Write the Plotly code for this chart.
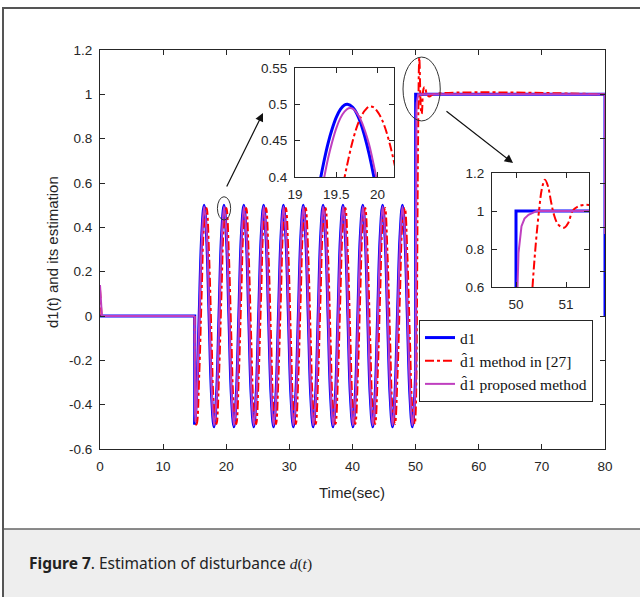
import plotly.graph_objects as go

# ---------------- data ----------------
# common sample instants of the oscillating part (sec)
OSC_T = [
    15.32, 15.71, 16.10, 16.49, 16.89, 17.28, 17.67, 18.06,
    18.46, 18.85, 19.24, 19.64, 20.03, 20.42, 20.81, 21.21,
    21.60, 21.99, 22.38, 22.78, 23.17, 23.56, 23.95, 24.35,
    24.74, 25.13, 25.53, 25.92, 26.31, 26.70, 27.10, 27.49,
    27.88, 28.27, 28.67, 29.06, 29.45, 29.85, 30.24, 30.63,
    31.02, 31.42, 31.81, 32.20, 32.59, 32.99, 33.38, 33.77,
    34.17, 34.56, 34.95, 35.34, 35.74, 36.13, 36.52, 36.91,
    37.31, 37.70, 38.09, 38.49, 38.88, 39.27, 39.66, 40.06,
    40.45, 40.84, 41.23, 41.63, 42.02, 42.41, 42.80, 43.20,
    43.59, 43.98, 44.38, 44.77, 45.16, 45.55, 45.95, 46.34,
    46.73, 47.12, 47.52, 47.91, 48.30, 48.69, 49.09, 49.48,
    49.87,
]

# d1 (true disturbance)
D1_START_T = [0.0, 15.0, 15.0]
D1_START = [0.0, 0.0, -0.49]
D1_OSC = [
    -0.354, 0.0, 0.354, 0.5, 0.354, 0.0, -0.354, -0.5,
    -0.354, 0.0, 0.354, 0.5, 0.354, 0.0, -0.354, -0.5,
    -0.354, 0.0, 0.354, 0.5, 0.354, 0.0, -0.354, -0.5,
    -0.354, 0.0, 0.354, 0.5, 0.354, 0.0, -0.354, -0.5,
    -0.354, 0.0, 0.354, 0.5, 0.354, 0.0, -0.354, -0.5,
    -0.354, 0.0, 0.354, 0.5, 0.354, 0.0, -0.354, -0.5,
    -0.354, 0.0, 0.354, 0.5, 0.354, 0.0, -0.354, -0.5,
    -0.354, 0.0, 0.354, 0.5, 0.354, 0.0, -0.354, -0.5,
    -0.354, 0.0, 0.354, 0.5, 0.354, 0.0, -0.354, -0.5,
    -0.354, 0.0, 0.354, 0.5, 0.354, 0.0, -0.354, -0.5,
    -0.354, 0.0, 0.354, 0.5, 0.354, 0.0, -0.354, -0.5,
    -0.354,
]
D1_END_T = [50.0, 50.0, 80.0, 80.0]
D1_END = [-0.25, 1.0, 1.0, 0.0]

# d1-hat, method in [27]
M27_START_T = [0.0, 0.1, 0.25, 15.0]
M27_START = [0.12, 0.05, 0.0, 0.0]
M27_HEAD_T = [15.0, 15.1, 15.21]
M27_HEAD = [0.0, -0.38, -0.49]
M27_OSC = [
    -0.487, -0.272, 0.101, 0.416, 0.487, 0.272, -0.101, -0.415,
    -0.487, -0.272, 0.101, 0.416, 0.487, 0.272, -0.101, -0.415,
    -0.487, -0.272, 0.101, 0.416, 0.487, 0.272, -0.101, -0.415,
    -0.487, -0.272, 0.101, 0.416, 0.487, 0.272, -0.101, -0.415,
    -0.487, -0.272, 0.101, 0.416, 0.487, 0.272, -0.101, -0.415,
    -0.487, -0.272, 0.101, 0.416, 0.487, 0.272, -0.101, -0.415,
    -0.487, -0.272, 0.101, 0.416, 0.487, 0.272, -0.101, -0.415,
    -0.487, -0.272, 0.101, 0.416, 0.487, 0.272, -0.101, -0.415,
    -0.487, -0.272, 0.101, 0.416, 0.487, 0.272, -0.101, -0.415,
    -0.487, -0.272, 0.101, 0.416, 0.487, 0.272, -0.101, -0.415,
    -0.487, -0.272, 0.101, 0.416, 0.487, 0.272, -0.101, -0.415,
    -0.487,
]
M27_TAIL_T = [50.0, 50.1, 50.2, 50.27, 50.33, 50.4, 50.46, 50.52, 50.58,
              50.64, 50.7, 50.76, 50.84, 50.96, 51.05, 51.13, 51.25, 51.4,
              51.55, 51.8, 52.2, 52.8, 80.0]
M27_TAIL = [-0.44, -0.32, 0.0, 0.32, 0.6, 0.84, 1.0, 1.12, 1.165,
            1.13, 1.05, 0.98, 0.93, 0.912, 0.94, 1.0, 1.025, 1.033,
            1.025, 1.0, 0.99, 1.0, 1.0]

# d1-hat, proposed method
PROP_START_T = [0.0, 0.08, 0.15, 0.3, 15.0]
PROP_START = [0.14, 0.08, 0.04, 0.0, 0.0]
PROP_HEAD_T = [15.0, 15.05, 15.12]
PROP_HEAD = [0.0, -0.40, -0.48]
PROP_OSC = [
    -0.373, -0.035, 0.325, 0.494, 0.374, 0.035, -0.325, -0.494,
    -0.373, -0.035, 0.325, 0.494, 0.374, 0.035, -0.325, -0.494,
    -0.373, -0.035, 0.325, 0.494, 0.374, 0.035, -0.325, -0.494,
    -0.373, -0.035, 0.325, 0.494, 0.374, 0.035, -0.325, -0.494,
    -0.373, -0.035, 0.325, 0.494, 0.374, 0.035, -0.325, -0.494,
    -0.373, -0.035, 0.325, 0.494, 0.374, 0.035, -0.325, -0.494,
    -0.373, -0.035, 0.325, 0.494, 0.374, 0.035, -0.325, -0.494,
    -0.373, -0.035, 0.325, 0.494, 0.374, 0.035, -0.325, -0.494,
    -0.373, -0.035, 0.325, 0.494, 0.374, 0.035, -0.325, -0.494,
    -0.373, -0.035, 0.325, 0.494, 0.374, 0.035, -0.325, -0.494,
    -0.373, -0.035, 0.325, 0.494, 0.374, 0.035, -0.325, -0.494,
    -0.373,
]
PROP_OSC_END_T = [50.0]
PROP_OSC_END = [-0.28]
PROP_TAIL_T = [50.0, 50.015, 50.03, 50.05, 50.08, 50.11, 50.17, 50.25, 50.41, 80.0, 80.0]
PROP_TAIL = [-0.28, 0.3, 0.6, 0.78, 0.87, 0.92, 0.96, 0.98, 1.0, 1.0, 0.37]

# zoom-in around the peak near t = 19.6 s
Z1_D1_T = [19.28, 19.30, 19.35, 19.40, 19.45, 19.50, 19.55, 19.60, 19.635,
           19.70, 19.75, 19.80, 19.85, 19.90, 19.95, 20.00]
Z1_D1 = [0.379, 0.392, 0.421, 0.446, 0.466, 0.482, 0.493, 0.499, 0.500,
         0.496, 0.487, 0.473, 0.454, 0.431, 0.404, 0.373]
Z1_PROP_T = [19.30, 19.35, 19.40, 19.45, 19.50, 19.55, 19.60, 19.65, 19.70,
             19.75, 19.80, 19.85, 19.90, 19.95, 20.00, 20.05]
Z1_PROP = [0.366, 0.397, 0.425, 0.448, 0.467, 0.481, 0.490, 0.4946, 0.494,
           0.488, 0.478, 0.463, 0.444, 0.419, 0.391, 0.359]
Z1_M27_T = [19.55, 19.60, 19.65, 19.70, 19.75, 19.80, 19.85, 19.90, 19.95,
            20.00, 20.05, 20.10, 20.15, 20.20, 20.25]
Z1_M27 = [0.367, 0.399, 0.426, 0.450, 0.469, 0.483, 0.492, 0.497, 0.496,
          0.490, 0.480, 0.465, 0.445, 0.421, 0.393]

# tick labels
MAIN_XTICKS = [0, 10, 20, 30, 40, 50, 60, 70, 80]
MAIN_YTICKS = [-0.6, -0.4, -0.2, 0, 0.2, 0.4, 0.6, 0.8, 1, 1.2]
MAIN_YTEXT = ["-0.6", "-0.4", "-0.2", "0", "0.2", "0.4", "0.6", "0.8", "1", "1.2"]
Z1_XTICKS = [19, 19.5, 20]
Z1_YTICKS = [0.4, 0.45, 0.5, 0.55]
Z2_XTICKS = [50, 51]
Z2_YTICKS = [0.6, 0.8, 1, 1.2]

NAMES = ["d1", "d\u03021 method in [27]", "d\u03021 proposed method"]
X_TITLE = "Time(sec)"
Y_TITLE = "d1(t) and its estimation"
CAPTION = ("<b>Figure 7</b>. Estimation of disturbance "
           "<span style=\"font-family:'Liberation Serif'\"><i>d</i>(<i>t</i>)</span>")

# ---------------- styling ----------------
W, H = 640, 597
BLUE, RED, PURPLE = "#0000ff", "#ff0000", "#bf3fbf"
AX = "#262626"
SANS = "Liberation Sans, Arial"
TICKFONT = dict(family=SANS, size=13.5, color=AX)


def px_x(p):
    return p / W


def px_y(p):
    return 1 - p / H


fig = go.Figure()

# ---- main plot (blue, red, purple drawing order) ----
fig.add_trace(go.Scatter(x=D1_START_T, y=D1_START, mode="lines", name=NAMES[0],
                         legendgroup="d1", legendrank=1,
                         line=dict(color=BLUE, width=3)))
fig.add_trace(go.Scatter(x=[15.0] + OSC_T + [50.0], y=[-0.49] + D1_OSC + [-0.25],
                         mode="lines", legendgroup="d1", showlegend=False,
                         line=dict(color=BLUE, width=3, shape="spline")))
fig.add_trace(go.Scatter(x=D1_END_T, y=D1_END, mode="lines", legendgroup="d1",
                         showlegend=False, line=dict(color=BLUE, width=3)))

fig.add_trace(go.Scatter(x=M27_START_T, y=M27_START, mode="lines", name=NAMES[1],
                         legendgroup="m27", legendrank=2,
                         line=dict(color=RED, width=2, dash="dashdot")))
fig.add_trace(go.Scatter(x=M27_HEAD_T + OSC_T + M27_TAIL_T, y=M27_HEAD + M27_OSC + M27_TAIL,
                         mode="lines", legendgroup="m27", showlegend=False,
                         line=dict(color=RED, width=2, dash="dashdot", shape="spline")))

fig.add_trace(go.Scatter(x=PROP_START_T, y=PROP_START, mode="lines", name=NAMES[2],
                         legendgroup="prop", legendrank=3,
                         line=dict(color=PURPLE, width=2)))
fig.add_trace(go.Scatter(x=PROP_HEAD_T + OSC_T + PROP_OSC_END_T,
                         y=PROP_HEAD + PROP_OSC + PROP_OSC_END,
                         mode="lines", legendgroup="prop", showlegend=False,
                         line=dict(color=PURPLE, width=2, shape="spline")))
fig.add_trace(go.Scatter(x=PROP_TAIL_T, y=PROP_TAIL, mode="lines", legendgroup="prop",
                         showlegend=False, line=dict(color=PURPLE, width=2)))

# ---- inset 1 ----
fig.add_trace(go.Scatter(x=Z1_D1_T, y=Z1_D1, mode="lines", xaxis="x2", yaxis="y2",
                         showlegend=False, line=dict(color=BLUE, width=3, shape="spline")))
fig.add_trace(go.Scatter(x=Z1_M27_T, y=Z1_M27, mode="lines", xaxis="x2", yaxis="y2",
                         showlegend=False,
                         line=dict(color=RED, width=2, dash="dashdot", shape="spline")))
fig.add_trace(go.Scatter(x=Z1_PROP_T, y=Z1_PROP, mode="lines", xaxis="x2", yaxis="y2",
                         showlegend=False, line=dict(color=PURPLE, width=2, shape="spline")))

# ---- inset 2 ----
fig.add_trace(go.Scatter(x=D1_END_T, y=D1_END, mode="lines", xaxis="x3", yaxis="y3",
                         showlegend=False, line=dict(color=BLUE, width=3)))
fig.add_trace(go.Scatter(x=M27_TAIL_T, y=M27_TAIL, mode="lines", xaxis="x3", yaxis="y3",
                         showlegend=False,
                         line=dict(color=RED, width=2, dash="dashdot", shape="spline")))
fig.add_trace(go.Scatter(x=PROP_TAIL_T, y=PROP_TAIL, mode="lines", xaxis="x3", yaxis="y3",
                         showlegend=False, line=dict(color=PURPLE, width=2)))

axis_common = dict(showline=True, linecolor=AX, linewidth=1, mirror="ticks",
                   ticks="inside", ticklen=5, tickcolor=AX, showgrid=False,
                   zeroline=False, tickfont=TICKFONT, automargin=False)
x_common = dict(axis_common, ticklabelstandoff=5)
y_common = dict(axis_common, ticklabelstandoff=4)

fig.update_layout(
    width=W, height=H,
    margin=dict(l=0, r=0, t=0, b=0, autoexpand=False),
    paper_bgcolor="white", plot_bgcolor="white",
    xaxis=dict(domain=[px_x(100), px_x(605)], range=[0, 80], tickvals=MAIN_XTICKS,
               **x_common),
    yaxis=dict(domain=[px_y(449), px_y(50)], range=[-0.6, 1.2], tickvals=MAIN_YTICKS,
               ticktext=MAIN_YTEXT, **y_common),
    xaxis2=dict(domain=[px_x(295), px_x(394)], range=[19, 20.2], tickvals=Z1_XTICKS,
                anchor="y2", **x_common),
    yaxis2=dict(domain=[px_y(177), px_y(68)], range=[0.4, 0.55], tickvals=Z1_YTICKS,
                anchor="x2", **y_common),
    xaxis3=dict(domain=[px_x(492), px_x(589)], range=[49.52, 51.46], tickvals=Z2_XTICKS,
                anchor="y3", **x_common),
    yaxis3=dict(domain=[px_y(287), px_y(173)], range=[0.6, 1.2], tickvals=Z2_YTICKS,
                anchor="x3", **y_common),
    legend=dict(x=px_x(419), y=px_y(320), xanchor="left", yanchor="top",
                bgcolor="white", bordercolor="#262626", borderwidth=1,
                font=dict(family="Liberation Serif, DejaVu Serif", size=15.5, color="#111"),
                tracegroupgap=0, itemwidth=30),
    showlegend=True,
)

# outer frame and caption area
fig.add_shape(type="rect", xref="paper", yref="paper", x0=px_x(3), x1=1.02,
              y0=-0.02, y1=px_y(529), fillcolor="#eeeeee",
              line=dict(color="#666666", width=1.5), layer="below")
fig.add_shape(type="rect", xref="paper", yref="paper", x0=px_x(3), x1=1.02,
              y0=-0.02, y1=px_y(8), fillcolor="rgba(0,0,0,0)",
              line=dict(color="#555555", width=2), layer="below")

# ellipses marking the zoomed regions
fig.add_shape(type="circle", xref="x", yref="y", x0=18.6, x1=20.7, y0=0.433, y1=0.538,
              line=dict(color="#333333", width=1))
fig.add_shape(type="circle", xref="x", yref="y", x0=48.0, x1=53.9, y0=0.880, y1=1.168,
              line=dict(color="#333333", width=1))

# arrows
fig.add_annotation(x=25.82, y=0.916, ax=19.96, ay=0.577, xref="x", yref="y",
                   axref="x", ayref="y", showarrow=True, arrowhead=2, arrowsize=1.4,
                   arrowwidth=1.2, arrowcolor="#111111", text="")
fig.add_annotation(x=65.43, y=0.690, ax=54.65, ay=0.929, xref="x", yref="y",
                   axref="x", ayref="y", showarrow=True, arrowhead=2, arrowsize=1.4,
                   arrowwidth=1.2, arrowcolor="#111111", text="")

# axis titles
fig.add_annotation(x=px_x(352), y=px_y(492), xref="paper", yref="paper",
                   showarrow=False, text=X_TITLE, xanchor="center", yanchor="middle",
                   font=dict(family=SANS, size=15, color=AX))
fig.add_annotation(x=px_x(52), y=px_y(252), xref="paper", yref="paper",
                   showarrow=False, text=Y_TITLE, textangle=-90,
                   xanchor="center", yanchor="middle",
                   font=dict(family=SANS, size=15, color=AX))

# caption
fig.add_annotation(x=px_x(27), y=px_y(563), xref="paper", yref="paper",
                   xanchor="left", yanchor="middle", showarrow=False,
                   text=CAPTION, font=dict(family="Noto Sans", size=15.5, color="#222222"))

fig.write_html("out.html")
